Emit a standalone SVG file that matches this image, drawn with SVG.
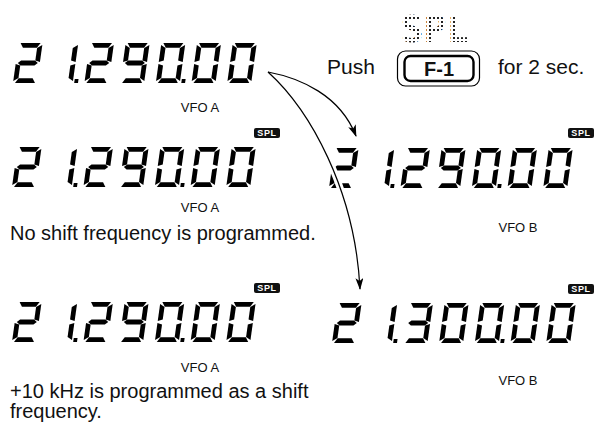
<svg xmlns="http://www.w3.org/2000/svg" xmlns:xlink="http://www.w3.org/1999/xlink" width="595" height="435" viewBox="0 0 595 435">
<style>
.lbl{font-family:"Liberation Sans",Arial,sans-serif;fill:#111}
.vfo{font-size:13px}
.body{font-size:20px}
.badge rect{fill:#111}
.badge text{font-family:"Liberation Sans",Arial,sans-serif;font-size:9px;font-weight:bold;fill:#fff;text-anchor:middle;letter-spacing:0.6px}
.seg{fill:#000}
.conn{fill:none;stroke:#000;stroke-width:1.2}
.halo{fill:none;stroke:#fff;stroke-width:7}
</style>
<defs>
<pattern id="dots" x="0" y="0" width="4" height="4" patternUnits="userSpaceOnUse">
<rect x="1" y="1" width="2.2" height="2.2" fill="#222" shape-rendering="crispEdges"/>
</pattern>
<marker id="ah" viewBox="0 0 12 8" refX="11" refY="4" markerWidth="12" markerHeight="8" markerUnits="userSpaceOnUse" orient="auto">
<path d="M0,0 L12,4 L0,8 L3,4 z" fill="#000"/>
</marker>
<polygon id="sa" class="seg" points="2,0 22,0 19,4.8 5,4.8"/>
<polygon id="sb" class="seg" points="24,2 24,19 19.2,17.5 19.2,5"/>
<polygon id="sc" class="seg" points="24,21 24,38 19.2,35 19.2,22.5"/>
<polygon id="sd" class="seg" points="5,35.2 19,35.2 22,40 2,40"/>
<polygon id="se" class="seg" points="0,21 4.8,22.5 4.8,35 0,38"/>
<polygon id="sf" class="seg" points="0,2 4.8,5 4.8,17.5 0,19"/>
<polygon id="sg" class="seg" points="2,20 5,17.6 19,17.6 22,20 19,22.4 5,22.4"/>
<rect id="dp" class="seg" x="25.5" y="36" width="3.8" height="4"/>
<g id="d0"><use href="#sa"/><use href="#sb"/><use href="#sc"/><use href="#sd"/><use href="#se"/><use href="#sf"/></g>
<g id="d1"><use href="#sb"/><use href="#sc"/></g>
<g id="d2"><use href="#sa"/><use href="#sb"/><use href="#sg"/><use href="#se"/><use href="#sd"/></g>
<g id="d3"><use href="#sa"/><use href="#sb"/><use href="#sg"/><use href="#sc"/><use href="#sd"/></g>
<g id="d9"><use href="#sa"/><use href="#sb"/><use href="#sc"/><use href="#sd"/><use href="#sf"/><use href="#sg"/></g>
<g id="f21290">
<use href="#d2" transform="translate(0,0) skewX(-8)"/>
<use href="#d1" transform="translate(35.7,0) skewX(-8)"/>
<use href="#dp" transform="translate(35.7,0) skewX(-8)"/>
<use href="#d2" transform="translate(71.4,0) skewX(-8)"/>
<use href="#d9" transform="translate(107.1,0) skewX(-8)"/>
<use href="#d0" transform="translate(142.8,0) skewX(-8)"/>
<use href="#dp" transform="translate(142.8,0) skewX(-8)"/>
<use href="#d0" transform="translate(178.5,0) skewX(-8)"/>
<use href="#d0" transform="translate(214.2,0) skewX(-8)"/>
</g>
<g id="f21300">
<use href="#d2" transform="translate(0,0) skewX(-8)"/>
<use href="#d1" transform="translate(35.7,0) skewX(-8)"/>
<use href="#dp" transform="translate(35.7,0) skewX(-8)"/>
<use href="#d3" transform="translate(71.4,0) skewX(-8)"/>
<use href="#d0" transform="translate(107.1,0) skewX(-8)"/>
<use href="#d0" transform="translate(142.8,0) skewX(-8)"/>
<use href="#dp" transform="translate(142.8,0) skewX(-8)"/>
<use href="#d0" transform="translate(178.5,0) skewX(-8)"/>
<use href="#d0" transform="translate(214.2,0) skewX(-8)"/>
</g>
</defs>
<rect width="595" height="435" fill="#fff"/>

<g id="display-top">
<use href="#f21290" transform="translate(18.6,43)"/>
<text class="lbl vfo" x="200" y="112" text-anchor="middle">VFO A</text>
</g>

<g id="instruction">
<text x="435" y="42" text-anchor="middle" font-family="DejaVu Sans Mono,monospace" font-size="38" font-weight="bold" fill="url(#dots)">SPL</text>
<text class="lbl" x="327" y="74" font-size="21">Push</text>
<rect x="397.5" y="51" width="82" height="35" rx="8" fill="none" stroke="#000" stroke-width="1.2"/>
<rect x="404.5" y="56" width="69" height="25" rx="6" fill="none" stroke="#000" stroke-width="2.4"/>
<text class="lbl" x="439" y="76" font-size="20" font-weight="bold" text-anchor="middle">F-1</text>
<text class="lbl" x="498" y="74" font-size="21">for 2 sec.</text>
</g>

<g id="display-row2-a">
<use href="#f21290" transform="translate(17.6,147)"/>
<g class="badge"><rect x="254" y="128" width="26" height="10" rx="2"/><text x="267" y="136.3">SPL</text></g>
<text class="lbl vfo" x="200" y="212" text-anchor="middle">VFO A</text>
<text class="lbl body" x="10" y="240">No shift frequency is programmed.</text>
</g>

<g id="display-row2-b">
<use href="#f21290" transform="translate(334.6,148)"/>
<g class="badge"><rect x="568" y="128" width="26" height="10" rx="2"/><text x="581" y="136.3">SPL</text></g>
<text class="lbl vfo" x="518" y="232" text-anchor="middle">VFO B</text>
</g>

<g id="display-row3-a">
<use href="#f21290" transform="translate(17.6,302)"/>
<g class="badge"><rect x="254" y="283" width="26" height="10" rx="2"/><text x="267" y="291.3">SPL</text></g>
<text class="lbl vfo" x="200" y="372" text-anchor="middle">VFO A</text>
<text class="lbl body" x="10" y="398">+10 kHz is programmed as a shift</text>
<text class="lbl body" x="10" y="418">frequency.</text>
</g>

<g id="display-row3-b">
<use href="#f21300" transform="translate(337.6,303)"/>
<g class="badge"><rect x="568" y="284" width="26" height="10" rx="2"/><text x="581" y="292.3">SPL</text></g>
<text class="lbl vfo" x="518" y="385" text-anchor="middle">VFO B</text>
</g>

<g id="connectors">
<path class="halo" d="M268,72 C310,110 355,190 360,289"/>
<path class="conn" d="M268,72 C300,78 340,95 356,136" marker-end="url(#ah)"/>
<path class="conn" d="M268,72 C310,110 355,190 360,289" marker-end="url(#ah)"/>
</g>
</svg>
